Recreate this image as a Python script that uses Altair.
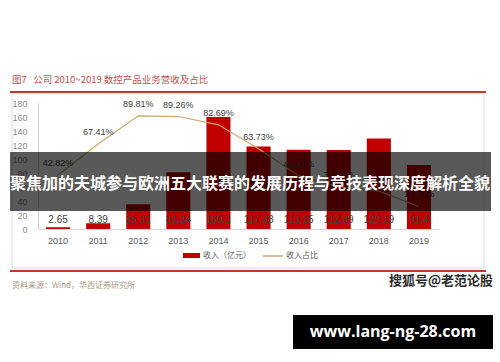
import altair as alt
import pandas as pd

years = ["2010", "2011", "2012", "2013", "2014", "2015", "2016", "2017", "2018", "2019"]
revenue = [2.65, 8.39, 35.31, 81.24, 160.1, 117.88, 113.15, 112.89, 129.19, 91.4]
share = [0.4282, 0.6741, 0.8981, 0.8926, 0.8269, 0.6373, 0.4231, 0.3341, 0.3002, 0.1790]
left_ticks = [0, 20, 40, 60, 80, 100, 120, 140, 160, 180]
right_ticks = [0, 0.1, 0.2, 0.3, 0.4, 0.5, 0.6, 0.7, 0.8, 0.9, 1.0]

title_text = "图7\u00a0\u00a0\u00a0公司\u00a02010~2019\u00a0数控产品业务营收及占比"
legend_bar = "收入（亿元）"
legend_line = "收入占比"
source_text = "资料来源：Wind，华西证券研究所"
banner_text = "聚焦加的夫城参与欧洲五大联赛的发展历程与竞技表现深度解析全貌"
watermark_text = "搜狐号@老范论股"
site_text = "www.lang-ng-28.com"

df = pd.DataFrame({"year": years, "rev": revenue, "pct": share})
df["rev_label"] = [f"{v:g}" for v in revenue]
one = pd.DataFrame({"k": [0]})

FONT = "Liberation Sans"
CJK = "Noto Sans CJK SC"
RED = "#C00000"
TAN = "#C9A96B"

x_enc = alt.X("year:N", title=None,
              scale=alt.Scale(paddingInner=0.4, paddingOuter=0.2),
              axis=alt.Axis(labelAngle=0, ticks=False, domainColor="#d9d9d9",
                            labelColor="#595959", labelFontSize=9, labelFont=FONT,
                            labelPadding=7))

base = alt.Chart(df)
bars = base.mark_bar(color=RED).encode(
    x=x_enc,
    y=alt.Y("rev:Q", title=None, scale=alt.Scale(domain=[0, 180]),
            axis=alt.Axis(values=left_ticks, grid=False, ticks=False,
                          domainColor="#d0d0d0", labelColor="#8c8c8c",
                          labelFontSize=9, labelFont=FONT, labelPadding=11)),
)
bar_labels = base.mark_text(fontSize=10, font=FONT, color="#404040").encode(
    x=x_enc, y=alt.value(117), text="rev_label:N")

left = alt.layer(bars, bar_labels)

line = base.mark_line(color=TAN, strokeWidth=1.2).encode(
    x=x_enc,
    y=alt.Y("pct:Q", title=None, scale=alt.Scale(domain=[0, 1]),
            axis=alt.Axis(orient="right", values=right_ticks, format=".2%",
                          grid=False, tickSize=4, tickColor="#c8c8c8",
                          domainColor="#c8c8c8", labelColor="#595959",
                          labelFontSize=9, labelFont=FONT, labelPadding=3)),
)
pct_labels = base.mark_text(fontSize=9, font=FONT, color="#404040", dy=-12).encode(
    x=x_enc, y=alt.Y("pct:Q", axis=None), text=alt.Text("pct:Q", format=".2%"))
right = alt.layer(line, pct_labels)

ob = alt.Chart(one)
frame = ob.mark_rect(fill=None, stroke="#dedede", strokeWidth=1).encode(
    x=alt.value(-26), x2=alt.value(446), y=alt.value(-10), y2=alt.value(165))
top_rule = ob.mark_rule(color="#C0392B", strokeWidth=2).encode(
    x=alt.value(-28), x2=alt.value(448), y=alt.value(-11))
bot_rule = ob.mark_rule(color="#C0392B", strokeWidth=2).encode(
    x=alt.value(-28), x2=alt.value(448), y=alt.value(168))
title = ob.mark_text(align="left", baseline="middle", fontSize=9.5, font=CJK,
                     color="#C0504D").encode(
    x=alt.value(-26), y=alt.value(-23), text=alt.value(title_text))
leg_rect = ob.mark_rect(color=RED).encode(
    x=alt.value(145), x2=alt.value(162), y=alt.value(150), y2=alt.value(155))
leg_text1 = ob.mark_text(align="left", baseline="middle", fontSize=8, font=CJK,
                         color="#595959").encode(
    x=alt.value(165), y=alt.value(153), text=alt.value(legend_bar))
leg_line = ob.mark_rule(color=TAN, strokeWidth=1.5).encode(
    x=alt.value(225), x2=alt.value(245), y=alt.value(153))
leg_text2 = ob.mark_text(align="left", baseline="middle", fontSize=8, font=CJK,
                         color="#595959").encode(
    x=alt.value(248), y=alt.value(153), text=alt.value(legend_line))
source = ob.mark_text(align="left", baseline="middle", fontSize=8, font=CJK,
                      color="#A89B86").encode(
    x=alt.value(-26), y=alt.value(183), text=alt.value(source_text))
band = ob.mark_rect(color="#000000", opacity=0.65).encode(
    x=alt.value(-28), x2=alt.value(453), y=alt.value(49), y2=alt.value(108))
band_text = ob.mark_text(align="center", baseline="middle", fontSize=16, font=CJK,
                         fontWeight="bold", color="#ffffff").encode(
    x=alt.value(212), y=alt.value(81), text=alt.value(banner_text))
watermark = ob.mark_text(align="center", baseline="middle", fontSize=13, font=CJK,
                         fontWeight="bold", color="#2b2b2b").encode(
    x=alt.value(403), y=alt.value(178), text=alt.value(watermark_text))
site_box = ob.mark_rect(color="#000000").encode(
    x=alt.value(255), x2=alt.value(455), y=alt.value(212), y2=alt.value(246))
site = ob.mark_text(align="center", baseline="middle", fontSize=16, font="Open Sans",
                    fontWeight="bold", color="#ffffff").encode(
    x=alt.value(355), y=alt.value(229), text=alt.value(site_text))

chart_core = alt.layer(left, right).resolve_scale(y="independent")

chart = alt.layer(
    frame, chart_core, top_rule, bot_rule, title, leg_rect, leg_text1, leg_line,
    leg_text2, source, band, band_text, watermark, site_box, site
).properties(
    width=401, height=126,
    padding={"left": 38, "top": 103, "right": 61, "bottom": 133},
    autosize=alt.AutoSizeParams(type="none"),
    background="#ffffff",
).configure_view(stroke=None)

chart.save("out.html", embed_options={"renderer": "svg", "actions": False})
